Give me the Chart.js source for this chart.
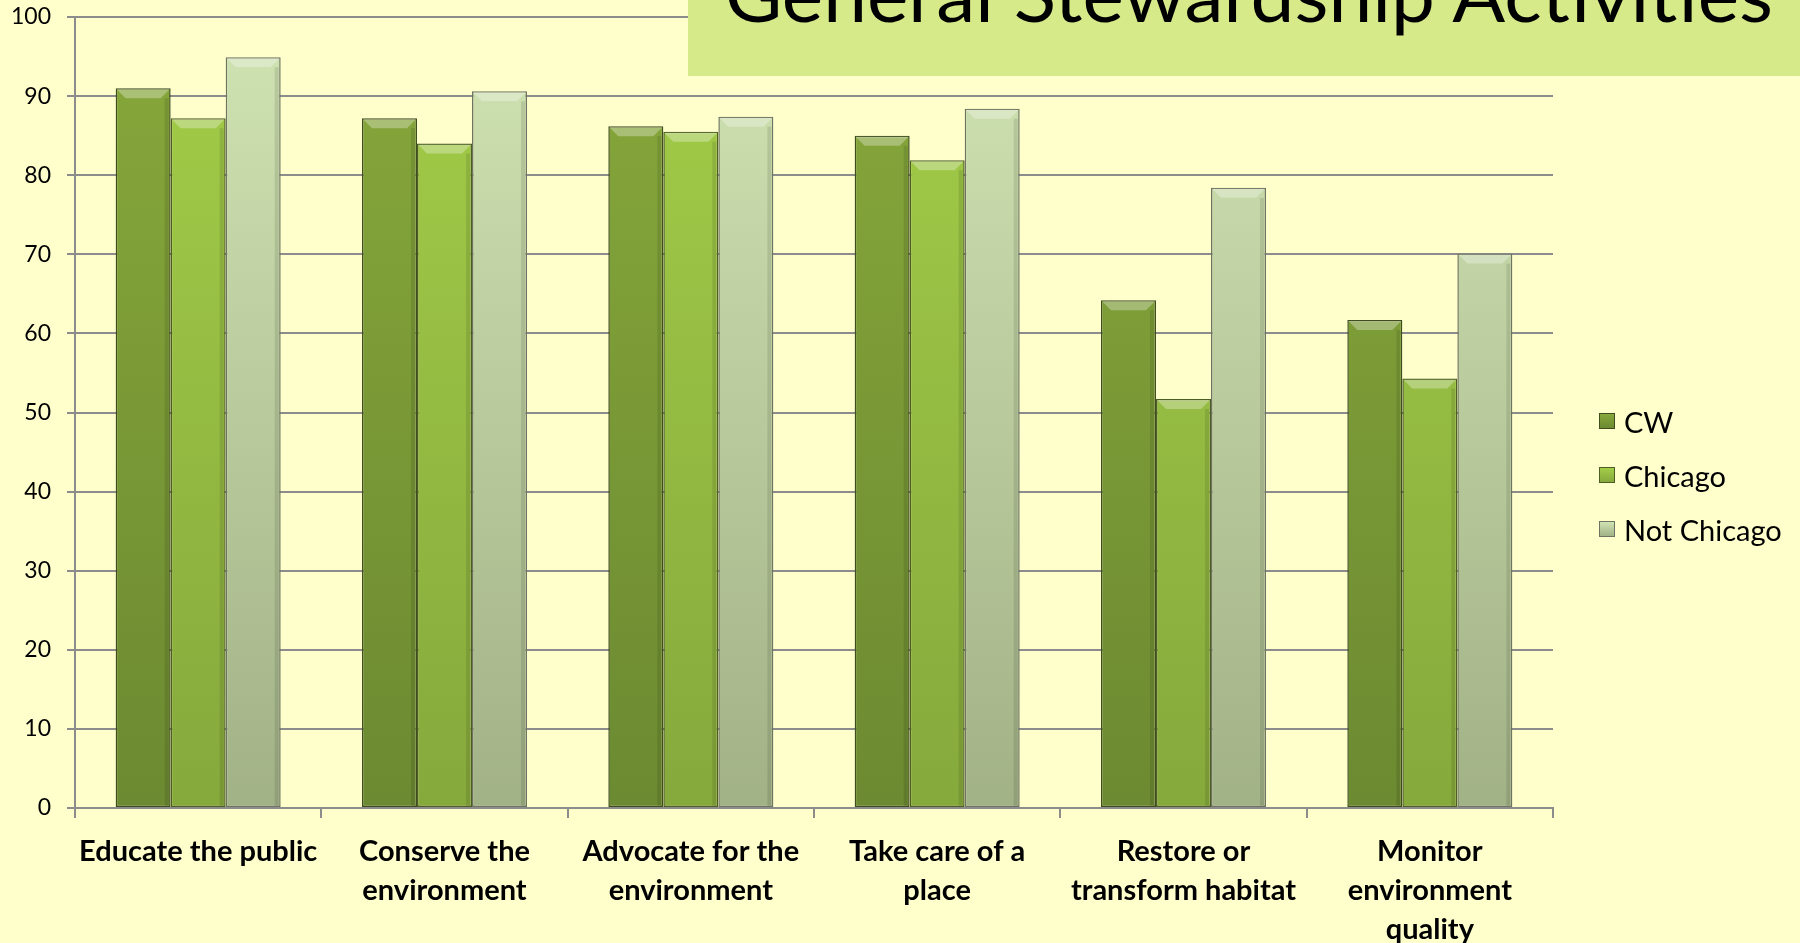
<!DOCTYPE html>
<html>
<head>
<meta charset="utf-8">
<script src="https://cdn.jsdelivr.net/npm/chart.js@4"></script>
<style>
    html, body { margin: 0; padding: 0; background: #ffffcc; }
    #wrap { position: relative; width: 1800px; height: 943px; overflow: hidden; background: #ffffcc; }
    #chart { position: absolute; left: 0; top: 0; }
    #title-box {
        position: absolute; left: 688px; top: 0; width: 1112px; height: 76px;
        background: #d6ea8a; overflow: hidden;
    }
    #title-text {
        position: absolute; left: 37px; top: -55px; white-space: nowrap;
        font-family: Lato, sans-serif; font-size: 76px; line-height: 96px; color: #000;
        transform-origin: 0 0;
    }
    #legend { position: absolute; left: 1599px; top: 394px; font-family: Lato, sans-serif; font-size: 29px; color: #000; }
    .leg-item { display: flex; align-items: center; height: 54px; }
    .leg-box { width: 16px; height: 16px; margin-right: 9px; box-sizing: border-box; border: 1px solid #4a5a2a; }
</style>
</head>
<body>
<div id="wrap">
    <canvas id="chart" width="1800" height="943"></canvas>
    <div id="title-box"><span id="title-text">General Stewardship Activities</span></div>
    <div id="legend"></div>
</div>
<script>
// Data
const categories = [
    ['Educate the public'],
    ['Conserve the', 'environment'],
    ['Advocate for the', 'environment'],
    ['Take care of a', 'place'],
    ['Restore or', 'transform habitat'],
    ['Monitor', 'environment', 'quality']
];
const seriesNames = ['CW', 'Chicago', 'Not Chicago'];
const cwValues = [91.0, 87.2, 86.2, 85.0, 64.2, 61.7];
const chicagoValues = [87.2, 84.0, 85.5, 81.9, 51.7, 54.3];
const notChicagoValues = [94.9, 90.6, 87.4, 88.4, 78.4, 70.1];
const yTicks = [0, 10, 20, 30, 40, 50, 60, 70, 80, 90, 100];

// Series colors: [top, bottom, border]
const palette = [
    ['#87a83b', '#6c8a31', '#3e4c1e'],
    ['#a3cd48', '#86a93c', '#4c5e22'],
    ['#d0e3b2', '#a2b287', '#6e7462']
];

function barGradient(i) {
    return (context) => {
        const area = context.chart.chartArea;
        if (!area) return palette[i][0];
        const g = context.chart.ctx.createLinearGradient(0, area.top, 0, area.bottom);
        g.addColorStop(0, palette[i][0]);
        g.addColorStop(1, palette[i][1]);
        return g;
    };
}

// Fit title text to its width in the reference
const titleEl = document.getElementById('title-text');
const titleW = titleEl.getBoundingClientRect().width;
titleEl.style.transform = 'scaleX(' + (1048 / titleW) + ')';

// HTML legend
const legend = document.getElementById('legend');
seriesNames.forEach((name, i) => {
    const item = document.createElement('div');
    item.className = 'leg-item';
    item.innerHTML = `<span class="leg-box" style="background: linear-gradient(${palette[i][0]}, ${palette[i][1]}); border-color: ${palette[i][2]}"></span>${name}`;
    legend.appendChild(item);
});

// Top bevel highlight on each bar
const bevelPlugin = {
    id: 'bevel',
    afterDatasetsDraw(chart) {
        const ctx = chart.ctx;
        chart.data.datasets.forEach((ds, di) => {
            const meta = chart.getDatasetMeta(di);
            meta.data.forEach(bar => {
                const left = bar.x - bar.width / 2 + 1;
                const right = bar.x + bar.width / 2 - 1;
                const top = bar.y + 1;
                const d = 9;
                ctx.save();
                ctx.fillStyle = 'rgba(255,255,255,0.30)';
                ctx.beginPath();
                ctx.moveTo(left, top);
                ctx.lineTo(right, top);
                ctx.lineTo(right - d, top + d);
                ctx.lineTo(left + d, top + d);
                ctx.closePath();
                ctx.fill();
                ctx.fillStyle = 'rgba(0,0,0,0.10)';
                ctx.fillRect(right - 5, top + d, 4, bar.base - top - d - 1);
                ctx.restore();
            });
        });
    }
};

Chart.defaults.font.family = 'Lato, sans-serif';
Chart.defaults.color = '#000';

new Chart(document.getElementById('chart'), {
    type: 'bar',
    data: {
        labels: categories,
        datasets: [cwValues, chicagoValues, notChicagoValues].map((vals, i) => ({
            label: seriesNames[i],
            data: vals,
            backgroundColor: barGradient(i),
            borderColor: palette[i][2],
            borderWidth: 1.5,
            borderSkipped: false,
            categoryPercentage: 0.67,
            barPercentage: 1.0
        }))
    },
    options: {
        responsive: false,
        animation: false,
        layout: { padding: { left: 0, top: 17, right: 247, bottom: 0 } },
        plugins: {
            legend: { display: false },
            tooltip: { enabled: false }
        },
        scales: {
            y: {
                min: 0,
                max: 100,
                afterBuildTicks: axis => { axis.ticks = yTicks.map(v => ({ value: v })); },
                afterFit: axis => { axis.width = 75; axis.paddingTop = 0; axis.paddingBottom = 0; },
                border: { color: '#8c8c8c', width: 2 },
                grid: { color: '#8c8c8c', lineWidth: 2, tickLength: 8 },
                ticks: { font: { size: 23 }, padding: 16 }
            },
            x: {
                afterFit: axis => { axis.height = 135; axis.paddingLeft = 0; axis.paddingRight = 0; },
                border: { color: '#8c8c8c', width: 2 },
                grid: { drawOnChartArea: false, color: '#8c8c8c', lineWidth: 2, tickLength: 10 },
                ticks: { font: { size: 29, weight: 'bold', lineHeight: 1.35 }, padding: 14, maxRotation: 0, autoSkip: false }
            }
        }
    },
    plugins: [bevelPlugin]
});
</script>
</body>
</html>
